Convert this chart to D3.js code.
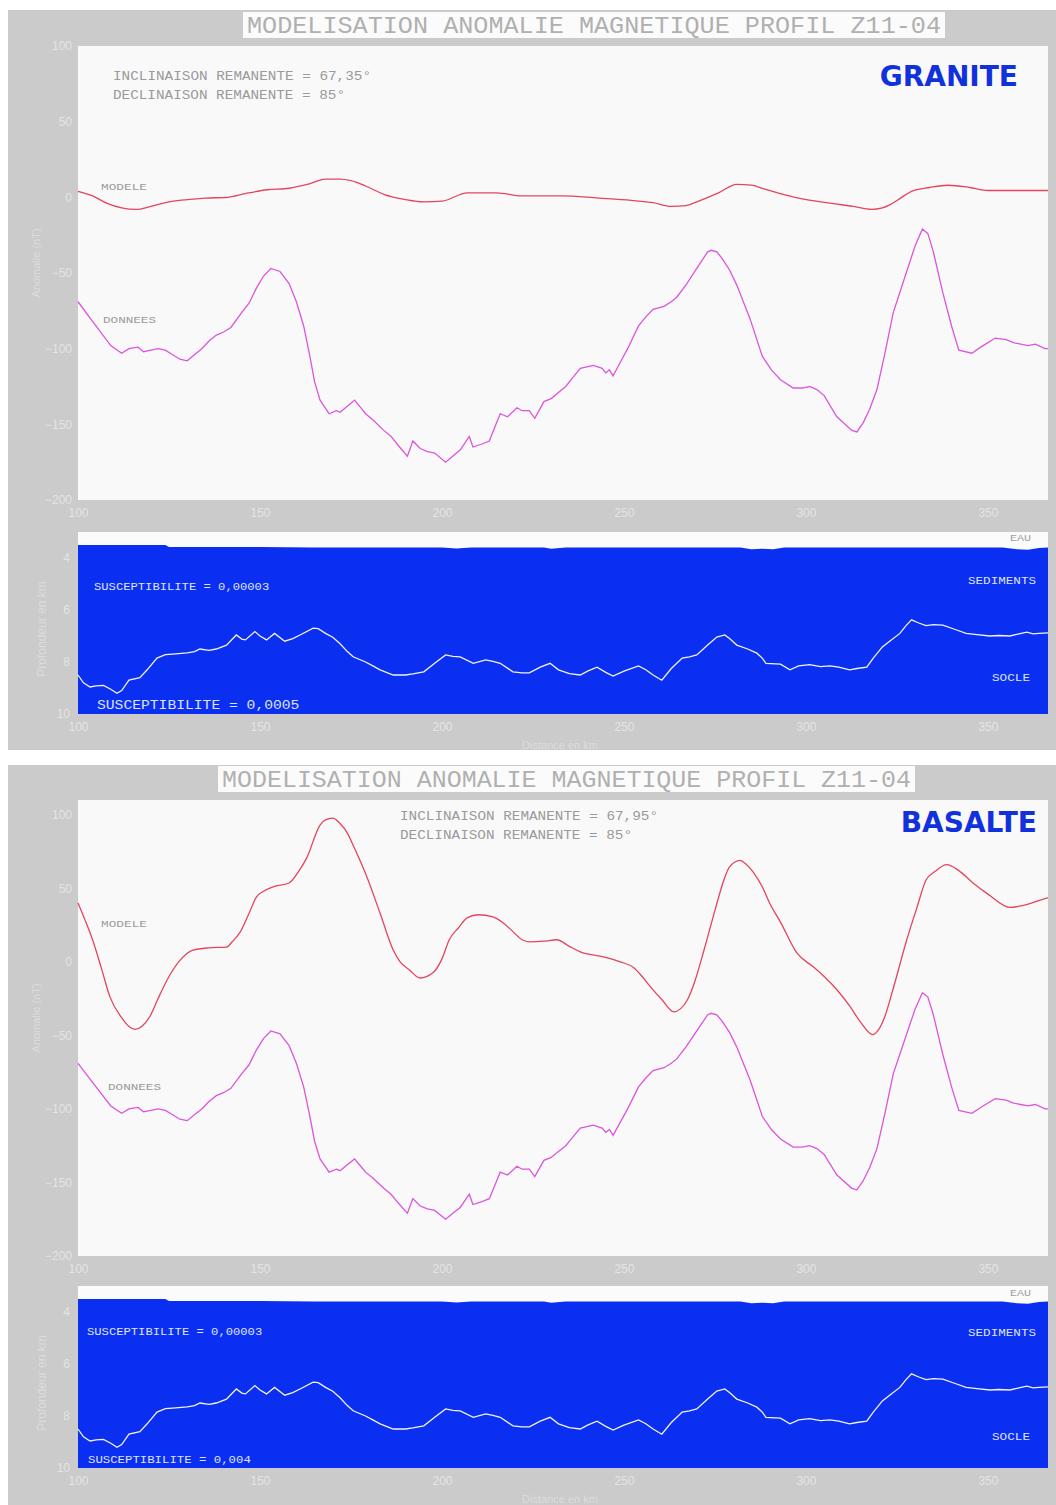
<!DOCTYPE html>
<html><head><meta charset="utf-8">
<script src="https://cdn.jsdelivr.net/npm/d3@7"></script>
<style>
html,body{margin:0;padding:0;background:#fff;}
svg{display:block;}
</style></head>
<body>
<script>
// ---------- DATA ----------
const xTicks = [100, 150, 200, 250, 300, 350];
const anomalyTicks = [100, 50, 0, -50, -100, -150, -200];
const depthTicks = [4, 6, 8, 10];

// Observed data (nT) – same in both panels
const donnees = [
 [100,-69],[104,-82],[109,-98],[112,-103],[114,-100],[116.5,-99],[118,-102],[120,-101],[122,-100],[124,-101],[126,-104],[128,-107],[130,-108],[132,-104],[134,-100],[136,-95],[138,-91],[140,-89],[142,-86],[145,-76],[147,-70],[149,-60],[151,-52],[153,-47],[155.5,-49],[158,-57],[160,-69],[162,-85],[163.7,-105],[165,-122],[166.5,-134],[169,-143],[171,-141],[172,-142],[174,-138],[176,-134],[178,-140],[179,-143],[181,-147],[184,-154],[186,-158],[188,-164],[190.5,-171],[192,-161],[194,-166],[196,-168],[198,-169],[201,-175],[203,-171],[205,-167],[207.5,-158],[208.5,-165],[211,-163],[213,-161],[214.5,-152],[216,-143],[218,-145],[220.6,-139],[222,-141],[224,-141],[225.5,-146],[228,-135],[230,-133],[232,-129],[234,-125],[236,-119],[238,-113],[241.6,-111],[244,-113],[245,-116],[246,-114],[247,-118],[249,-109],[251,-100],[254,-85],[256,-79],[258,-74],[261,-72],[263,-69],[264.5,-66],[267,-58],[270,-47],[273,-36],[274,-35],[275.5,-36],[277,-40.5],[279,-48],[281,-58],[284.6,-80],[288,-105],[290.5,-114],[293,-120.5],[296.5,-126],[299,-126],[301,-125],[303,-127],[305,-131],[308.5,-145],[312.6,-154],[314,-155],[315.7,-149],[317.5,-140],[319.5,-127],[321.7,-103],[324,-76],[327,-54],[330,-32],[332,-21],[333.5,-24],[335,-36],[337.6,-63],[340,-85],[342,-101],[345.6,-103],[348,-99],[350,-96],[352,-93],[355,-94],[357,-96],[359,-97],[361,-98],[363,-97],[365.7,-100],[366.5,-100]
];

const modeleGranite = [
 [100,4],[104,1],[108,-4],[112,-7],[116,-8],[120,-6],[125,-3],[130,-1.5],[135,-0.5],[141,0],[146,2.5],[152,5],[158,6],[163,8.5],[168,12],[172,12],[175,11],[179,7.5],[184,2],[190,-1.5],[195,-3],[200,-2.5],[207,3],[215,3],[222,1],[233,1],[243,-0.5],[252,-2],[258,-3.5],[263,-6],[267,-5.5],[270,-3],[276,3],[281,8.5],[285,8],[288,6],[293,2.5],[298,-0.5],[307,-4],[313,-6],[318,-8],[321,-7],[323,-5],[326,-0.5],[329,4],[334,6.5],[339,8],[345,6.5],[350,4.5],[358,4.5],[366.5,4.5]
];

const modeleBasalte = [
 [100,40],[102,28],[104,15],[106.5,-5],[108.8,-24],[112,-38],[114,-44],[115.7,-46],[117.5,-44],[119.8,-37],[122,-25],[125,-10],[128,1],[131.6,8],[136,9.5],[140.8,10],[142.5,14],[144.5,20],[147,33],[149,44],[151,48],[153.6,51],[158,53.6],[160.5,61],[162.9,71],[166.5,93],[168,96.5],[170,97.7],[172,94],[174,87.5],[176,77],[179,60],[183,33],[186.6,8],[188.5,0],[191,-5.4],[194,-11],[197.5,-7.5],[200,2],[202,15],[204.5,23],[207,30],[210,32],[214,30.5],[216.5,27],[219,21.7],[222,15],[224,13.6],[228,14],[231.5,15],[235,10.5],[238,6.8],[244.4,3.4],[249,0],[252.7,-4],[255,-10],[257.3,-17],[260.5,-26],[263.7,-34],[265.5,-32],[267.4,-26],[269.5,-13],[272,8],[275,35],[277.5,56],[279,64.5],[281.9,69],[283.5,66.5],[285.5,61],[288,51],[290,40],[293,27],[297.5,6],[302,-3.4],[305,-10],[308.5,-19],[312,-30],[315,-41],[318.4,-49.5],[320,-46],[321.7,-37],[324,-18],[327.7,15],[330.5,37],[333,55.6],[335.5,61.5],[338.7,66],[342,62],[345.9,53.6],[350,46],[356,37],[360,38.5],[365.7,43],[366.5,43.5]
];

// Basement (socle) depth in km – same in both panels
const socle = [
 [100,8.5],[101.5,8.8],[103.3,8.96],[105,8.92],[107,8.9],[109,9.05],[110.7,9.2],[112,9.1],[114,8.7],[117,8.6],[119,8.3],[121.7,7.85],[124,7.72],[126,7.7],[130,7.65],[132,7.6],[133.5,7.5],[136,7.55],[138,7.5],[140.8,7.35],[143.5,6.96],[145,7.12],[146,7.15],[148.6,6.83],[150,7.0],[151.8,7.15],[154,6.9],[156.8,7.2],[159,7.1],[161,6.96],[164.6,6.7],[166,6.72],[168,6.9],[170,7.05],[172,7.3],[174,7.6],[175.6,7.8],[179,8.0],[181,8.15],[183,8.3],[186.6,8.5],[190,8.5],[192,8.46],[195,8.38],[198,8.05],[201,7.73],[203,7.78],[205,7.8],[208.6,8.05],[212,7.92],[214,7.98],[216,8.05],[219.5,8.38],[222,8.42],[224,8.42],[227,8.2],[229.7,8.05],[232,8.3],[235,8.45],[238,8.5],[240,8.35],[242.6,8.2],[245,8.4],[247,8.54],[250,8.35],[254,8.15],[256,8.3],[258,8.5],[260.4,8.7],[263,8.25],[266,7.85],[268,7.8],[270,7.73],[273,7.35],[275.5,7.04],[277.7,6.96],[279,7.1],[281,7.35],[284,7.5],[286.5,7.66],[288,7.85],[289,8.05],[293,8.08],[295.6,8.3],[298,8.15],[301,8.1],[304,8.18],[306.6,8.15],[309,8.2],[312,8.3],[314,8.25],[316.7,8.2],[318.5,7.85],[321,7.42],[323,7.2],[325.8,6.9],[327.5,6.6],[329,6.38],[331,6.5],[333,6.6],[335,6.56],[337.6,6.58],[341,6.75],[344,6.9],[347,6.95],[350.5,7.0],[353,6.98],[356,7.0],[358.5,6.92],[360.7,6.85],[362.4,6.92],[364,6.9],[366.5,6.88]
];

// Bottom of the water layer (km)
const eau = [
 [100,3.5],[124,3.5],[125,3.58],[150,3.58],[165,3.6],[200,3.6],[204,3.63],[208,3.6],[228,3.6],[230,3.64],[234,3.6],[282,3.6],[285,3.66],[288,3.64],[291,3.66],[294,3.6],[354,3.6],[358,3.66],[361,3.68],[364,3.62],[366.5,3.6]
];

const titleText = "MODELISATION ANOMALIE MAGNETIQUE PROFIL Z11-04";
const panels = [
 {name:"GRANITE", model: modeleGranite, incl:"INCLINAISON REMANENTE = 67,35°", decl:"DECLINAISON REMANENTE = 85°",
  suscTop:"SUSCEPTIBILITE = 0,00003", suscBot:"SUSCEPTIBILITE = 0,0005", yDomain:[-200,100]},
 {name:"BASALTE", model: modeleBasalte, incl:"INCLINAISON REMANENTE = 67,95°", decl:"DECLINAISON REMANENTE = 85°",
  suscTop:"SUSCEPTIBILITE = 0,00003", suscBot:"SUSCEPTIBILITE = 0,004", yDomain:[-200,110]}
];

// ---------- LAYOUT ----------
const W = 1056, H = 1505;
const layouts = [
 {bgY:10, bgH:740, titleX:243, titleW:702, titleY:12, titleH:26, pTop:46, pBot:500, dTop:532, dBot:714,
  inclX:113, inclY:80, nameX:1018, nameY:86, modX:101, modY:190, donX:103, donY:323,
  suscTopX:94, suscTopY:590, suscBotX:97, suscBotY:709, sedY:584, socY:681, eauY:541, suscBotSize:12.5},
 {bgY:765, bgH:740, titleX:218, titleW:697, titleY:766, titleH:26, pTop:800, pBot:1256, dTop:1286, dBot:1468,
  inclX:400, inclY:820, nameX:1037, nameY:832, modX:101, modY:927, donX:108, donY:1090,
  suscTopX:87, suscTopY:1335, suscBotX:88, suscBotY:1463, sedY:1336, socY:1440, eauY:1296, suscBotSize:11}
];
const plotL = 78, plotR = 1048;

const svg = d3.select("body").append("svg").attr("width", W).attr("height", H);
svg.append("rect").attr("width", W).attr("height", H).attr("fill", "#ffffff");

const x = d3.scaleLinear().domain([100, 366.5]).range([plotL, plotR]);
const mono = "'Liberation Mono', 'DejaVu Sans Mono', monospace";
const lightTxt = "#e4e4e4";

panels.forEach((p, i) => {
  const L = layouts[i];
  const g = svg.append("g");
  // gray background
  g.append("rect").attr("x", 8).attr("y", L.bgY).attr("width", W - 8).attr("height", L.bgH).attr("fill", "#cbcbcb");
  // title box
  g.append("rect").attr("x", L.titleX).attr("y", L.titleY).attr("width", L.titleW).attr("height", L.titleH).attr("fill", "#fbfbfb");
  g.append("text").attr("x", L.titleX + 4).attr("y", L.titleY + L.titleH/2 + 8)
    .attr("font-family", mono).attr("font-size", 24).attr("fill", "#b0b0b0")
    .attr("textLength", L.titleW - 8).attr("lengthAdjust", "spacingAndGlyphs").text(titleText);

  // anomaly plot area
  const y = d3.scaleLinear().domain(p.yDomain).range([L.pBot, L.pTop]);
  g.append("rect").attr("x", plotL).attr("y", L.pTop).attr("width", plotR - plotL).attr("height", L.pBot - L.pTop).attr("fill", "#f9f9f9");

  const yAxis = d3.axisLeft(y).tickValues(anomalyTicks).tickSize(0).tickPadding(6).tickFormat(d3.format("d"));
  const ya = g.append("g").attr("transform", `translate(${plotL},0)`).call(yAxis);
  ya.select(".domain").remove();
  ya.selectAll("text").attr("font-family", "'Liberation Sans', Arial, sans-serif").attr("font-size", 12).attr("fill", lightTxt);

  const xAxis = d3.axisBottom(x).tickValues(xTicks).tickSize(0).tickPadding(8).tickFormat(d3.format("d"));
  const xa = g.append("g").attr("transform", `translate(0,${L.pBot})`).call(xAxis);
  xa.select(".domain").remove();
  xa.selectAll("text").attr("font-family", "'Liberation Sans', Arial, sans-serif").attr("font-size", 12).attr("fill", lightTxt);

  // axis title
  g.append("text").attr("transform", `translate(40,${(L.pTop + L.pBot)/2 - 10}) rotate(-90)`)
    .attr("text-anchor", "middle").attr("font-family", "'Liberation Sans', Arial, sans-serif").attr("font-size", 11)
    .attr("fill", "#dcdcdc").text("Anomalie (nT)");

  const line = d3.line().x(d => x(d[0])).y(d => y(d[1]));
  g.append("path").attr("d", line.curve(d3.curveMonotoneX)(p.model))
    .attr("fill", "none").attr("stroke", "#e4455c").attr("stroke-width", 1.3);
  g.append("path").attr("d", d3.line().x(d => x(d[0])).y(d => y(d[1]))(donnees))
    .attr("fill", "none").attr("stroke", "#dc55dc").attr("stroke-width", 1.3);

  // labels in plot
  const small = (tx, ty, t, size, fill, anchor) => g.append("text").attr("x", tx).attr("y", ty)
    .attr("font-family", mono).attr("font-size", size).attr("fill", fill).attr("text-anchor", anchor || "start").text(t);
  small(L.inclX, L.inclY, p.incl, 12.5, "#9a9a9a").attr("textLength", 258).attr("lengthAdjust", "spacingAndGlyphs");
  small(L.inclX, L.inclY + 19, p.decl, 12.5, "#9a9a9a").attr("textLength", 232).attr("lengthAdjust", "spacingAndGlyphs");
  small(L.modX, L.modY, "MODELE", 9.5, "#9a9a9a").attr("textLength", 46).attr("lengthAdjust", "spacingAndGlyphs");
  small(L.donX, L.donY, "DONNEES", 9.5, "#9a9a9a").attr("textLength", 53).attr("lengthAdjust", "spacingAndGlyphs");
  g.append("text").attr("x", L.nameX).attr("y", L.nameY).attr("text-anchor", "end")
    .attr("font-family", "'DejaVu Sans', Verdana, sans-serif").attr("font-weight", "bold").attr("font-size", 28)
    .attr("fill", "#1131dd").text(p.name);

  // depth section
  const yd = d3.scaleLinear().domain([3, 10]).range([L.dTop, L.dBot]);
  g.append("rect").attr("x", plotL).attr("y", L.dTop).attr("width", plotR - plotL).attr("height", L.dBot - L.dTop).attr("fill", "#fbfbfb");
  const area = d3.area().x(d => x(d[0])).y0(yd(10)).y1(d => yd(d[1]));
  g.append("path").attr("d", area(eau)).attr("fill", "#0b2ff0");
  g.append("path").attr("d", d3.line().x(d => x(d[0])).y(d => yd(d[1]))(socle))
    .attr("fill", "none").attr("stroke", "#f2f2f2").attr("stroke-width", 1.3);

  const ydAxis = d3.axisLeft(yd).tickValues(depthTicks).tickSize(0).tickPadding(8).tickFormat(d3.format("d"));
  const yda = g.append("g").attr("transform", `translate(${plotL},0)`).call(ydAxis);
  yda.select(".domain").remove();
  yda.selectAll("text").attr("font-family", "'Liberation Sans', Arial, sans-serif").attr("font-size", 12).attr("fill", lightTxt);

  const xa2 = g.append("g").attr("transform", `translate(0,${L.dBot})`).call(xAxis);
  xa2.select(".domain").remove();
  xa2.selectAll("text").attr("font-family", "'Liberation Sans', Arial, sans-serif").attr("font-size", 12).attr("fill", lightTxt);

  g.append("text").attr("x", 560).attr("y", L.dBot + 35).attr("text-anchor", "middle")
    .attr("font-family", "'Liberation Sans', Arial, sans-serif").attr("font-size", 11).attr("fill", "#dcdcdc").text("Distance en km");
  g.append("text").attr("transform", `translate(46,${(L.dTop + L.dBot)/2 + 6}) rotate(-90)`)
    .attr("text-anchor", "middle").attr("font-family", "'Liberation Sans', Arial, sans-serif").attr("font-size", 12)
    .attr("fill", "#dcdcdc").text("Profondeur en km");

  small(L.suscTopX, L.suscTopY, p.suscTop, 10.5, "#dfe3ff").attr("textLength", p.suscTop.length * 7.3).attr("lengthAdjust", "spacingAndGlyphs");
  small(L.suscBotX, L.suscBotY, p.suscBot, L.suscBotSize, "#dfe3ff").attr("textLength", p.suscBot.length * (i === 0 ? 8.8 : 7.4)).attr("lengthAdjust", "spacingAndGlyphs");
  small(1036, L.sedY, "SEDIMENTS", 10, "#dfe3ff", "end").attr("textLength", 68).attr("lengthAdjust", "spacingAndGlyphs");
  small(1030, L.socY, "SOCLE", 10, "#dfe3ff", "end").attr("textLength", 38).attr("lengthAdjust", "spacingAndGlyphs");
  small(1031, L.eauY, "EAU", 9.5, "#a0a0a0", "end").attr("textLength", 21).attr("lengthAdjust", "spacingAndGlyphs");
});
</script>
</body></html>
